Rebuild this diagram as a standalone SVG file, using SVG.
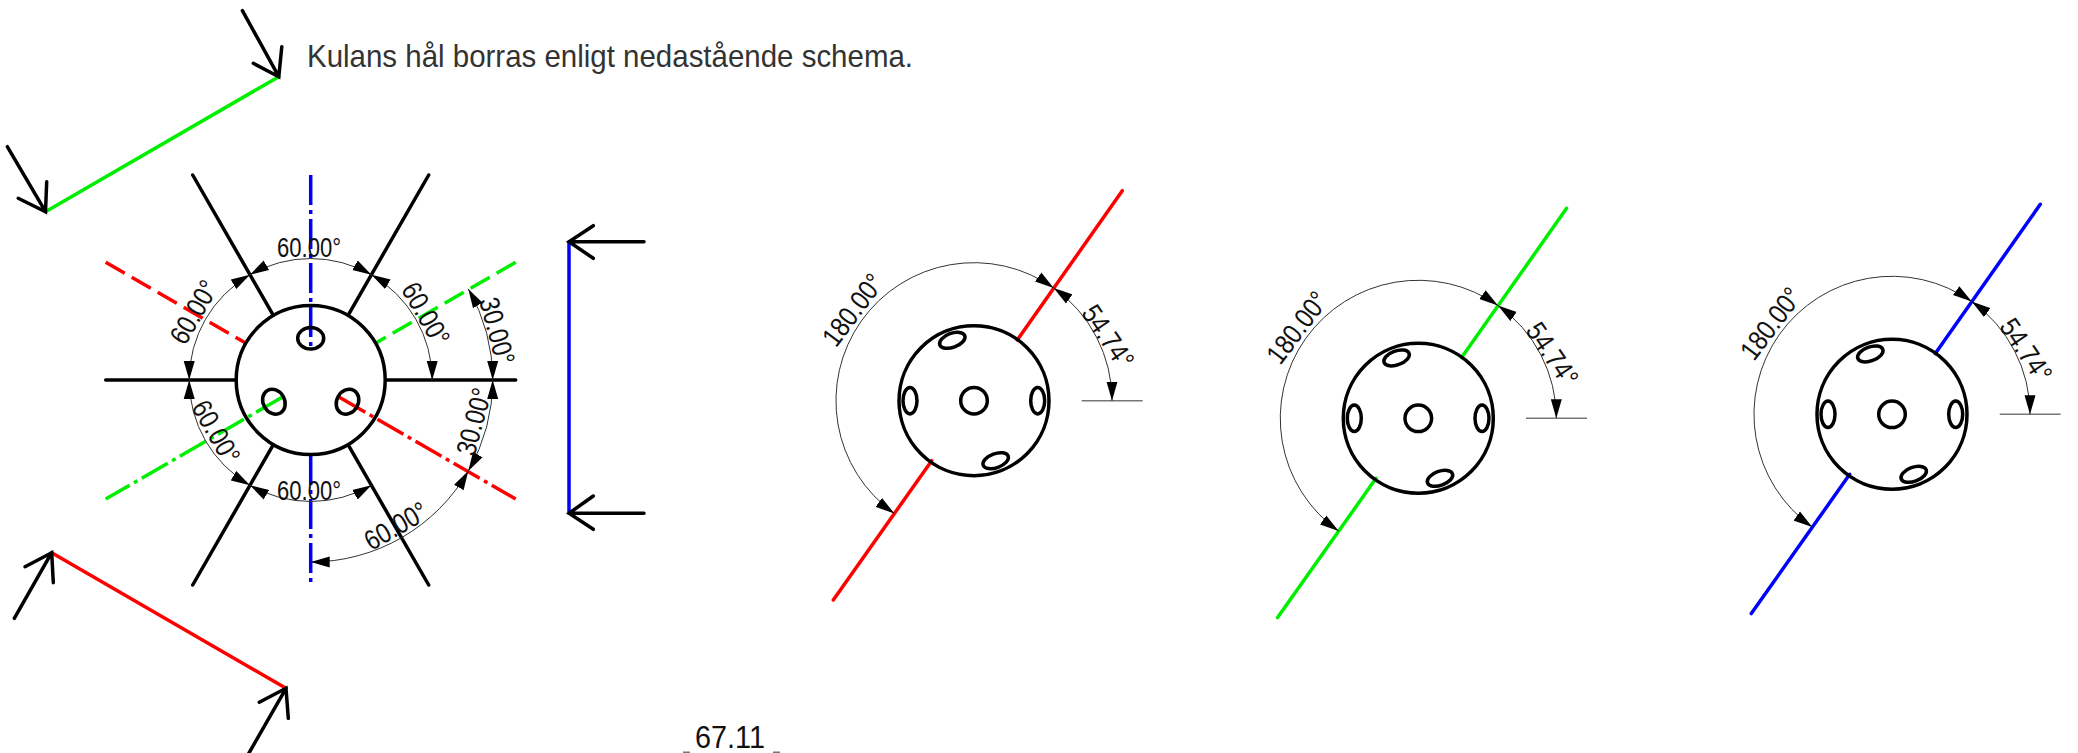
<svg xmlns="http://www.w3.org/2000/svg" width="2078" height="753" viewBox="0 0 2078 753">
<style>
text{font-family:"Liberation Sans",Arial,sans-serif;font-size:28px;fill:#111;text-anchor:middle;dominant-baseline:central;stroke:none}
.b{fill:none;stroke:#000;stroke-width:3.5;stroke-linecap:round}
.o{fill:none;stroke:#000;stroke-width:3.5}
.d{fill:none;stroke:#333;stroke-width:1}
.g{stroke:#777;stroke-width:1.6;fill:none}
.s{fill:none;stroke-width:3.5;stroke-linecap:round}
.sa{stroke-dasharray:30 5 4 5;stroke-linecap:butt}
.da{stroke-dasharray:22 8;stroke-linecap:butt}
.r{stroke:#f00}.gr{stroke:#0e0}.bl{stroke:#00f}
</style>
<defs>
<marker id="ah" markerUnits="userSpaceOnUse" markerWidth="20" markerHeight="12" refX="19" refY="6" orient="auto-start-reverse"><path d="M0 0.5L19 6L0 11.5Z" fill="#000"/></marker>
</defs>
<text x="610" y="56" style="font-size:32px;fill:#333" textLength="606" lengthAdjust="spacingAndGlyphs">Kulans hål borras enligt nedastående schema.</text>

<g id="section-arrows">
<path class="s gr" d="M278.8 76.7L45.5 211.7"/>
<path class="b" d="M242.4 10.7L278.8 76.7M281.8 46.7L278.8 76.7L253.3 63.3"/>
<path class="b" d="M7.3 146.7L45.5 211.7M46.7 181.7L45.5 211.7L18.2 198.3"/>
<path class="s r" d="M51.7 552.7L286 688.3"/>
<path class="b" d="M14.3 618.3L51.7 552.7M25 566.7L51.7 552.7L53.3 582.7"/>
<path class="b" d="M248.6 753.7L286 688.3M259.3 702.3L286 688.3L288.3 718.3"/>
<path class="s bl" d="M569 241.7V513.3"/>
<path class="b" d="M644 241.7H569M593.3 225.7L569 241.7L593.3 258.3"/>
<path class="b" d="M644 513.3H569M593.3 496L569 513.3L593.3 529.3"/>
</g>

<g id="front-view" transform="translate(310.7 380)">
<g class="cuts">
<path class="b" d="M-205 0H-75M75 0H205M-37.5 -64.9L-118 -205M37.5 -64.9L118 -205M-37.5 64.9L-118 205M37.5 64.9L118 205"/>
<path class="s r da" d="M-205 -117.7L-66 -37.5"/>
<path class="s gr da" d="M205 -117.7L66 -37.5"/>
<path class="s r sa" d="M28.6 17.3L205 119"/>
<path class="s gr sa" d="M-28.6 17.3L-205 119"/>
<path class="s bl sa" d="M0 -205V-33"/>
<path class="s bl sa" d="M0 75V205"/>
</g>
<circle class="o" r="74.5"/>
<ellipse class="o" cx="0" cy="-41.7" rx="13" ry="10.7"/>
<ellipse class="o" cx="36.8" cy="21.7" rx="13" ry="10.7" transform="rotate(-60 36.8 21.7)"/>
<ellipse class="o" cx="-36.8" cy="21.7" rx="13" ry="10.7" transform="rotate(60 -36.8 21.7)"/>
<g id="dims-front">
<path class="d" marker-start="url(#ah)" marker-end="url(#ah)" d="M-60.75 -105.2A121.5 121.5 0 0 1 60.75 -105.2"/>
<path class="d" marker-start="url(#ah)" marker-end="url(#ah)" d="M60.75 -105.2A121.5 121.5 0 0 1 121.5 0"/>
<path class="d" marker-start="url(#ah)" marker-end="url(#ah)" d="M-60.75 -105.2A121.5 121.5 0 0 0 -121.5 0"/>
<path class="d" marker-start="url(#ah)" marker-end="url(#ah)" d="M-121.5 0A121.5 121.5 0 0 0 -60.75 105.2"/>
<path class="d" marker-start="url(#ah)" marker-end="url(#ah)" d="M-60.75 105.2A121.5 121.5 0 0 0 60.75 105.2"/>
<path class="d" marker-start="url(#ah)" marker-end="url(#ah)" d="M157.6 -91A182 182 0 0 1 182 0"/>
<path class="d" marker-start="url(#ah)" marker-end="url(#ah)" d="M182 0A182 182 0 0 1 157.6 91"/>
<path class="d" marker-start="url(#ah)" marker-end="url(#ah)" d="M157.6 91A182 182 0 0 1 0 182"/>
</g>
</g>
<g id="front-labels">
<text x="309" y="247.7" textLength="64" lengthAdjust="spacingAndGlyphs">60.00°</text>
<text x="309" y="490" textLength="64" lengthAdjust="spacingAndGlyphs">60.00°</text>
<text transform="translate(194 312) rotate(-60)" textLength="68" lengthAdjust="spacingAndGlyphs">60.00°</text>
<text transform="translate(425.7 314) rotate(60)" textLength="68" lengthAdjust="spacingAndGlyphs">60.00°</text>
<text transform="translate(497 331) rotate(75)" textLength="68" lengthAdjust="spacingAndGlyphs">30.00°</text>
<text transform="translate(474 421.7) rotate(-75)" textLength="68" lengthAdjust="spacingAndGlyphs">30.00°</text>
<text transform="translate(216 432) rotate(60)" textLength="68" lengthAdjust="spacingAndGlyphs">60.00°</text>
<text transform="translate(396 526) rotate(-30)" textLength="68" lengthAdjust="spacingAndGlyphs">60.00°</text>
</g>

<g id="view-red" transform="translate(974 400.7)">
<path class="s r" d="M148.3 -210L43.3 -60.7M-42.3 60L-140.7 199.3"/>
<path class="g" d="M107.7 0H168.7"/>
<circle class="o" r="75"/><circle class="o" r="13.3"/>
<ellipse class="o" cx="63.7" cy="0" rx="7" ry="13.2"/><ellipse class="o" cx="-64" cy="0" rx="7" ry="13.2"/>
<ellipse class="o" cx="-21.7" cy="-60.4" rx="13.3" ry="7" transform="rotate(-20 -21.7 -60.4)"/><ellipse class="o" cx="21.7" cy="60" rx="13.3" ry="7" transform="rotate(-20 21.7 60)"/>
<path class="d" marker-start="url(#ah)" marker-end="url(#ah)" d="M79.7 -112.7A138 138 0 1 0 -79.7 112.7"/>
<path class="d" marker-start="url(#ah)" marker-end="url(#ah)" d="M79.7 -112.7A138 138 0 0 1 138 0"/>
<text transform="translate(-121 -90.7) rotate(-53)" textLength="82" lengthAdjust="spacingAndGlyphs">180.00°</text>
<text transform="translate(134 -64) rotate(56)" textLength="70" lengthAdjust="spacingAndGlyphs">54.74°</text>
</g>
<g id="view-green" transform="translate(1418.3 418.3)">
<path class="s gr" d="M148.3 -210L43.3 -60.7M-42.3 60L-140.7 199.3"/>
<path class="g" d="M107.7 0H168.7"/>
<circle class="o" r="75"/><circle class="o" r="13.3"/>
<ellipse class="o" cx="63.7" cy="0" rx="7" ry="13.2"/><ellipse class="o" cx="-64" cy="0" rx="7" ry="13.2"/>
<ellipse class="o" cx="-21.7" cy="-60.4" rx="13.3" ry="7" transform="rotate(-20 -21.7 -60.4)"/><ellipse class="o" cx="21.7" cy="60" rx="13.3" ry="7" transform="rotate(-20 21.7 60)"/>
<path class="d" marker-start="url(#ah)" marker-end="url(#ah)" d="M79.7 -112.7A138 138 0 1 0 -79.7 112.7"/>
<path class="d" marker-start="url(#ah)" marker-end="url(#ah)" d="M79.7 -112.7A138 138 0 0 1 138 0"/>
<text transform="translate(-121 -90.7) rotate(-53)" textLength="82" lengthAdjust="spacingAndGlyphs">180.00°</text>
<text transform="translate(134 -64) rotate(56)" textLength="70" lengthAdjust="spacingAndGlyphs">54.74°</text>
</g>
<g id="view-blue" transform="translate(1892 414.3)">
<path class="s bl" d="M148.3 -210L43.3 -60.7M-42.3 60L-140.7 199.3"/>
<path class="g" d="M107.7 0H168.7"/>
<circle class="o" r="75"/><circle class="o" r="13.3"/>
<ellipse class="o" cx="63.7" cy="0" rx="7" ry="13.2"/><ellipse class="o" cx="-64" cy="0" rx="7" ry="13.2"/>
<ellipse class="o" cx="-21.7" cy="-60.4" rx="13.3" ry="7" transform="rotate(-20 -21.7 -60.4)"/><ellipse class="o" cx="21.7" cy="60" rx="13.3" ry="7" transform="rotate(-20 21.7 60)"/>
<path class="d" marker-start="url(#ah)" marker-end="url(#ah)" d="M79.7 -112.7A138 138 0 1 0 -79.7 112.7"/>
<path class="d" marker-start="url(#ah)" marker-end="url(#ah)" d="M79.7 -112.7A138 138 0 0 1 138 0"/>
<text transform="translate(-121 -90.7) rotate(-53)" textLength="82" lengthAdjust="spacingAndGlyphs">180.00°</text>
<text transform="translate(134 -64) rotate(56)" textLength="70" lengthAdjust="spacingAndGlyphs">54.74°</text>
</g>
<g id="cut-dimension">
<path class="g" d="M683 752.3H690M773 752.3H780"/>
<text x="730" y="737" style="font-size:31px" textLength="70" lengthAdjust="spacingAndGlyphs">67.11</text>
</g>
</svg>
